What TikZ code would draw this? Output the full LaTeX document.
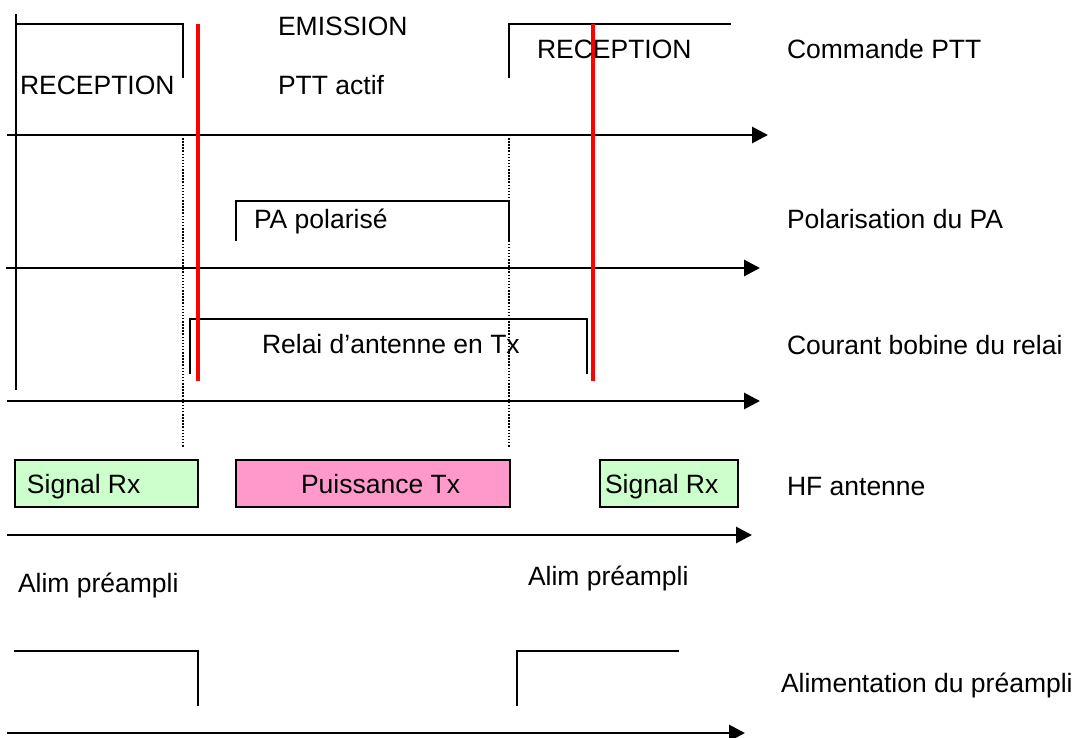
\documentclass[tikz,border=0pt]{standalone}
\usepackage{fontspec}
\setmainfont{Liberation Sans}
\usetikzlibrary{arrows.meta}
\definecolor{rxgreen}{HTML}{CCFFCC}
\definecolor{txpink}{HTML}{FF99CC}
\definecolor{marker}{HTML}{FF0000}
\tikzset{
  lbl/.style={anchor=base west, inner sep=0pt, outer sep=0pt, font=\fontsize{26.5}{30}\selectfont},
  sig/.style={line width=1.6pt, line cap=rect},
  timeaxis/.style={line width=2.9pt, -{Triangle[length=16pt,width=16pt]}},
  guide/.style={line width=1.3pt, dash pattern=on 1.5pt off 1.6pt},
  redmark/.style={marker, line width=3.8pt},
  hfbox/.style={draw=black, line width=1.8pt}
}
\begin{document}
\begin{tikzpicture}[x=1pt,y=-1pt]
\useasboundingbox (0,0) rectangle (1076,738);
% coordinates of axes
\coordinate (a1s) at (7,135);  \coordinate (a1e) at (768,135);
\coordinate (a2s) at (6,268);  \coordinate (a2e) at (760,268);
\coordinate (a3s) at (7,401);  \coordinate (a3e) at (760,401);
\coordinate (a4s) at (7,535);  \coordinate (a4e) at (752,535);
\coordinate (a5s) at (7,733);  \coordinate (a5e) at (745,733);

% dotted guides
\draw[guide] (183,135) -- (183,447);
\draw[guide] (509,135) -- (509,447);

% Commande PTT signal
\draw[sig] (16,15) -- (16,389);
\draw[sig] (16,24) -- (183,24) -- (183,77);
\draw[sig] (509,77) -- (509,24) -- (730,24);

% PA polarisation
\draw[sig] (236,240) -- (236,201) -- (509,201) -- (509,240);

% relay coil
\draw[sig] (190,373) -- (190,319) -- (587,319) -- (587,373);

% preamp supply
\draw[sig] (15,651) -- (198,651) -- (198,705);
\draw[sig] (517,705) -- (517,651) -- (678,651);

% HF boxes
\draw[hfbox, fill=rxgreen] (15,460) rectangle (198,507);
\draw[hfbox, fill=txpink] (236,460) rectangle (510,507);
\draw[hfbox, fill=rxgreen] (600,460) rectangle (738,507);

% axes
\draw[timeaxis] (a1s) -- (a1e);
\draw[timeaxis] (a2s) -- (a2e);
\draw[timeaxis] (a3s) -- (a3e);
\draw[timeaxis] (a4s) -- (a4e);
\draw[timeaxis] (a5s) -- (a5e);

% red markers
\draw[redmark] (198,24) -- (198,381);
\draw[redmark] (593,24) -- (593,381);

% labels
\node[lbl] (rec1) at (20,95) {RECEPTION};
\node[lbl] (emi) at (278,36) {EMISSION};
\node[lbl] (ptt) at (278,95) {PTT actif};
\node[lbl] (rec2) at (537,59) {RECEPTION};
\node[lbl] (cmd) at (787,59) {Commande PTT};
\node[lbl] (pa) at (254,229) {PA polarisé};
\node[lbl] (pol) at (787,229) {Polarisation du PA};
\node[lbl] (rel) at (262,353) {Relai d’antenne en Tx};
\node[lbl] (cour) at (787,354) {Courant bobine du relai};
\node[lbl] (srx1) at (27,493) {Signal Rx};
\node[lbl] (ptx) at (301,493) {Puissance Tx};
\node[lbl] (srx2) at (605,493) {Signal Rx};
\node[lbl] (hf) at (787,495) {HF antenne};
\node[lbl] (alim1) at (18,592) {Alim préampli};
\node[lbl] (alim2) at (528,585) {Alim préampli};
\node[lbl] (alim) at (781,692) {Alimentation du préampli};
\end{tikzpicture}
\end{document}
